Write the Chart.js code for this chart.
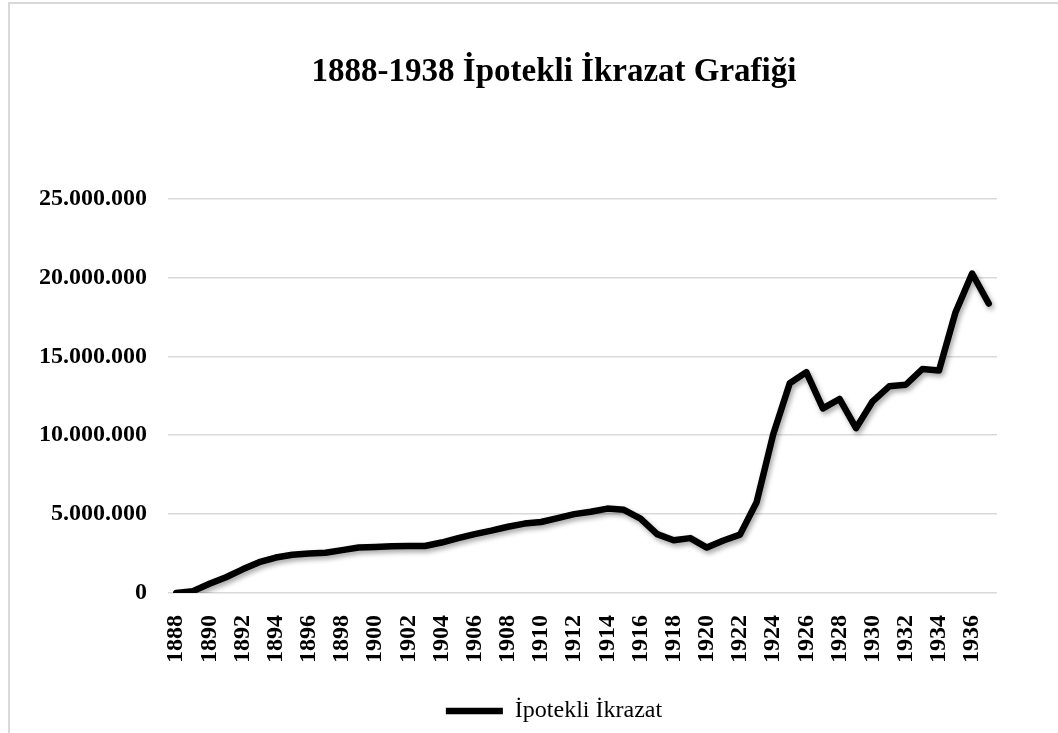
<!DOCTYPE html>
<html>
<head>
<meta charset="utf-8">
<script src="https://cdn.jsdelivr.net/npm/chart.js@4.4.0/dist/chart.umd.min.js"></script>
<style>
    body { margin: 0; overflow: hidden; background: #fff; }
    #frame { position: absolute; left: 8px; top: 2px; width: 1100px; height: 760px;
             border-left: 2px solid #d9d9d9; border-top: 2px solid #d9d9d9; }
</style>
</head>
<body>
<div id="frame"><canvas id="ikrazat"></canvas></div>
<script>
// years on the category axis
var years = ['1888','1889','1890','1891','1892','1893','1894','1895','1896','1897',
             '1898','1899','1900','1901','1902','1903','1904','1905','1906','1907',
             '1908','1909','1910','1911','1912','1913','1914','1915','1916','1917',
             '1918','1919','1920','1921','1922','1923','1924','1925','1926','1927',
             '1928','1929','1930','1931','1932','1933','1934','1935','1936','1937'];

// ipotekli ikrazat
var ikrazat = [0, 120000, 580000, 1000000, 1500000, 1950000, 2250000, 2420000, 2500000, 2550000,
               2720000, 2880000, 2920000, 2970000, 2980000, 2980000, 3200000, 3480000, 3730000, 3950000,
               4200000, 4400000, 4500000, 4750000, 5000000, 5150000, 5350000, 5270000, 4720000, 3730000,
               3340000, 3480000, 2880000, 3330000, 3700000, 5750000, 10050000, 13300000, 14000000, 11700000,
               12300000, 10450000, 12150000, 13100000, 13200000, 14200000, 14100000, 17800000, 20250000, 18350000];

// only every other year gets a label
var tickYears = ['1888','1890','1892','1894','1896','1898','1900','1902','1904','1906','1908','1910',
                 '1912','1914','1916','1918','1920','1922','1924','1926','1928','1930','1932','1934','1936'];

var yTicks = [0, 5000000, 10000000, 15000000, 20000000, 25000000];

function dotted(n) {
    return String(n).replace(/\B(?=(\d{3})+(?!\d))/g, '.');
}

// soft shadow under the line, like the original
var lineShadow = {
    id: 'lineShadow',
    beforeDatasetsDraw: function(chart) {
        var ctx = chart.ctx;
        ctx.save();
        ctx.shadowColor = 'rgba(0,0,0,0.35)';
        ctx.shadowBlur = 5;
        ctx.shadowOffsetX = 2;
        ctx.shadowOffsetY = 3;
    },
    afterDatasetsDraw: function(chart) {
        chart.ctx.restore();
    }
};

var canvas = document.getElementById('ikrazat');
canvas.width = 1088;
canvas.height = 729;

var serif = "'Liberation Serif', 'Times New Roman', serif";

var myChart = new Chart(canvas, {
    type: 'line',
    data: {
        labels: years,
        datasets: [{
            label: 'İpotekli İkrazat',
            data: ikrazat,
            borderColor: '#000',
            backgroundColor: '#000',
            borderWidth: 6.5,
            borderJoinStyle: 'round',
            borderCapStyle: 'round',
            pointRadius: 0,
            tension: 0,
            fill: false
        }]
    },
    plugins: [lineShadow],
    options: {
        responsive: false,
        animation: false,
        layout: { padding: { left: 0, right: 0, top: 0, bottom: 0 } },
        plugins: {
            title: {
                display: true,
                text: '1888-1938 İpotekli İkrazat Grafiği',
                color: '#000',
                font: { family: serif, size: 33, weight: 'bold' },
                padding: { top: 49, bottom: 106 }
            },
            legend: {
                position: 'bottom',
                labels: {
                    color: '#000',
                    font: { family: serif, size: 24 },
                    usePointStyle: true,
                    pointStyle: 'line',
                    pointStyleWidth: 57,
                    padding: 10
                }
            },
            tooltip: { enabled: false }
        },
        scales: {
            x: {
                offset: true,
                grid: { display: false },
                border: { display: false },
                afterFit: function(scale) { scale.height = 96; },
                ticks: {
                    autoSkip: false,
                    minRotation: 90,
                    maxRotation: 90,
                    padding: 14,
                    color: '#000',
                    font: { family: serif, size: 24, weight: 'bold' },
                    callback: function(v, i) {
                        var y = years[i];
                        return tickYears.indexOf(y) >= 0 ? y : '';
                    }
                }
            },
            y: {
                min: 0,
                max: 25000000,
                afterFit: function(scale) { scale.width = 158; },
                afterBuildTicks: function(scale) {
                    scale.ticks = yTicks.map(function(v) { return { value: v }; });
                },
                grid: { color: '#d9d9d9', lineWidth: 1.5, drawTicks: false },
                border: { display: false },
                ticks: {
                    padding: 21,
                    color: '#000',
                    font: { family: serif, size: 24, weight: 'bold' },
                    callback: function(v) { return dotted(v); }
                }
            },
            yRight: {
                position: 'right',
                display: true,
                afterFit: function(scale) { scale.width = 101; },
                grid: { display: false },
                border: { display: false },
                ticks: { display: false }
            }
        }
    }
});
</script>
</body>
</html>
